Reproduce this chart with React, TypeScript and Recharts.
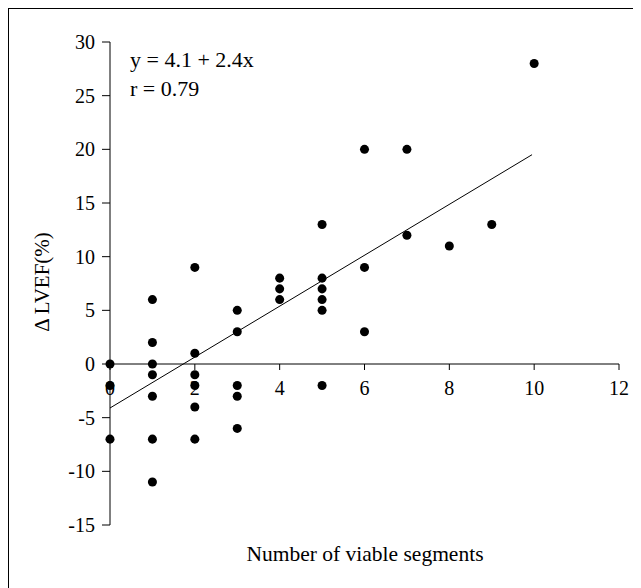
import { ScatterChart, Scatter, XAxis, YAxis, ReferenceLine } from 'recharts'

// viable segments (x) and change in LVEF (y), one entry per patient
const segments = [
  0, 0, 0,
  1, 1, 1, 1, 1, 1, 1,
  2, 2, 2, 2, 2, 2,
  3, 3, 3, 3, 3,
  4, 4, 4,
  5, 5, 5, 5, 5, 5,
  6, 6, 6,
  7, 7,
  8, 9, 10,
]
const deltaLvef = [
  0, -2, -7,
  6, 2, 0, -1, -3, -7, -11,
  9, 1, -1, -2, -4, -7,
  5, 3, -2, -3, -6,
  8, 7, 6,
  13, 8, 7, 6, 5, -2,
  20, 9, 3,
  20, 12,
  11, 13, 28,
]

const xTicks = [0, 2, 4, 6, 8, 10, 12]
const yTicks = [-15, -10, -5, 0, 5, 10, 15, 20, 25, 30]

// fitted line end points as drawn
const fitX = [0, 9.95]
const fitY = [-4.1, 19.5]

const data = segments.map((s, i) => ({ x: s, y: deltaLvef[i] }))

const FONT = '"Liberation Serif", "Times New Roman", serif'
const W = 630
const H = 570
const MARGIN = { top: 33, right: 20, bottom: 24, left: 0 }
const Y_AXIS_W = 101
const X_AXIS_H = 30
const PLOT_H = H - MARGIN.top - MARGIN.bottom - X_AXIS_H
const Y_MIN = yTicks[0]
const Y_MAX = yTicks[yTicks.length - 1]
const ZERO_Y = MARGIN.top + (PLOT_H * Y_MAX) / (Y_MAX - Y_MIN)

// x ticks sit on the y=0 line, not the bottom of the plot
function XTick({ x, payload }: any) {
  return (
    <g>
      <line x1={x} x2={x} y1={ZERO_Y} y2={ZERO_Y + 6} stroke="#000" />
      <text x={x} y={ZERO_Y + 31} textAnchor="middle" fontSize={20} fontFamily={FONT} fill="#000">
        {payload.value}
      </text>
    </g>
  )
}

export default function App() {
  return (
    <div
      style={{
        position: 'relative',
        width: 634,
        height: 590,
        margin: '-1px 0 0 -1px',
        borderTop: '2px solid #000',
        borderLeft: '2px solid #000',
        background: '#fff',
      }}
    >
      <ScatterChart width={W} height={H} margin={MARGIN}>
        <XAxis
          type="number"
          dataKey="x"
          domain={[0, 12]}
          ticks={xTicks}
          axisLine={false}
          tickLine={false}
          height={X_AXIS_H}
          tick={<XTick />}
          interval={0}
        />
        <YAxis
          type="number"
          dataKey="y"
          domain={[Y_MIN, Y_MAX]}
          ticks={yTicks}
          width={Y_AXIS_W}
          interval={0}
          axisLine={{ stroke: '#000' }}
          tickLine={{ stroke: '#000' }}
          tickSize={8}
          tickMargin={7}
          tick={{ fontSize: 20, fontFamily: FONT, fill: '#000' }}
        />
        <ReferenceLine y={0} stroke="#000" strokeWidth={1} />
        <ReferenceLine
          segment={[
            { x: fitX[0], y: fitY[0] },
            { x: fitX[1], y: fitY[1] },
          ]}
          stroke="#000"
          strokeWidth={1}
        />
        <Scatter data={data} fill="#000" isAnimationActive={false} />
        <text x={121} y={58} fontSize={22} fontFamily={FONT} fill="#000">
          y = 4.1 + 2.4x
        </text>
        <text x={121} y={87} fontSize={22} fontFamily={FONT} fill="#000">
          r = 0.79
        </text>
        <text
          x={33}
          y={273}
          transform="rotate(-90 33 273)"
          textAnchor="middle"
          dominantBaseline="central"
          fontSize={21}
          fontFamily={FONT}
          fill="#000"
        >
          Δ LVEF(%)
        </text>
        <text x={356} y={552} textAnchor="middle" fontSize={21.5} fontFamily={FONT} fill="#000">
          Number of viable segments
        </text>
      </ScatterChart>
    </div>
  )
}
